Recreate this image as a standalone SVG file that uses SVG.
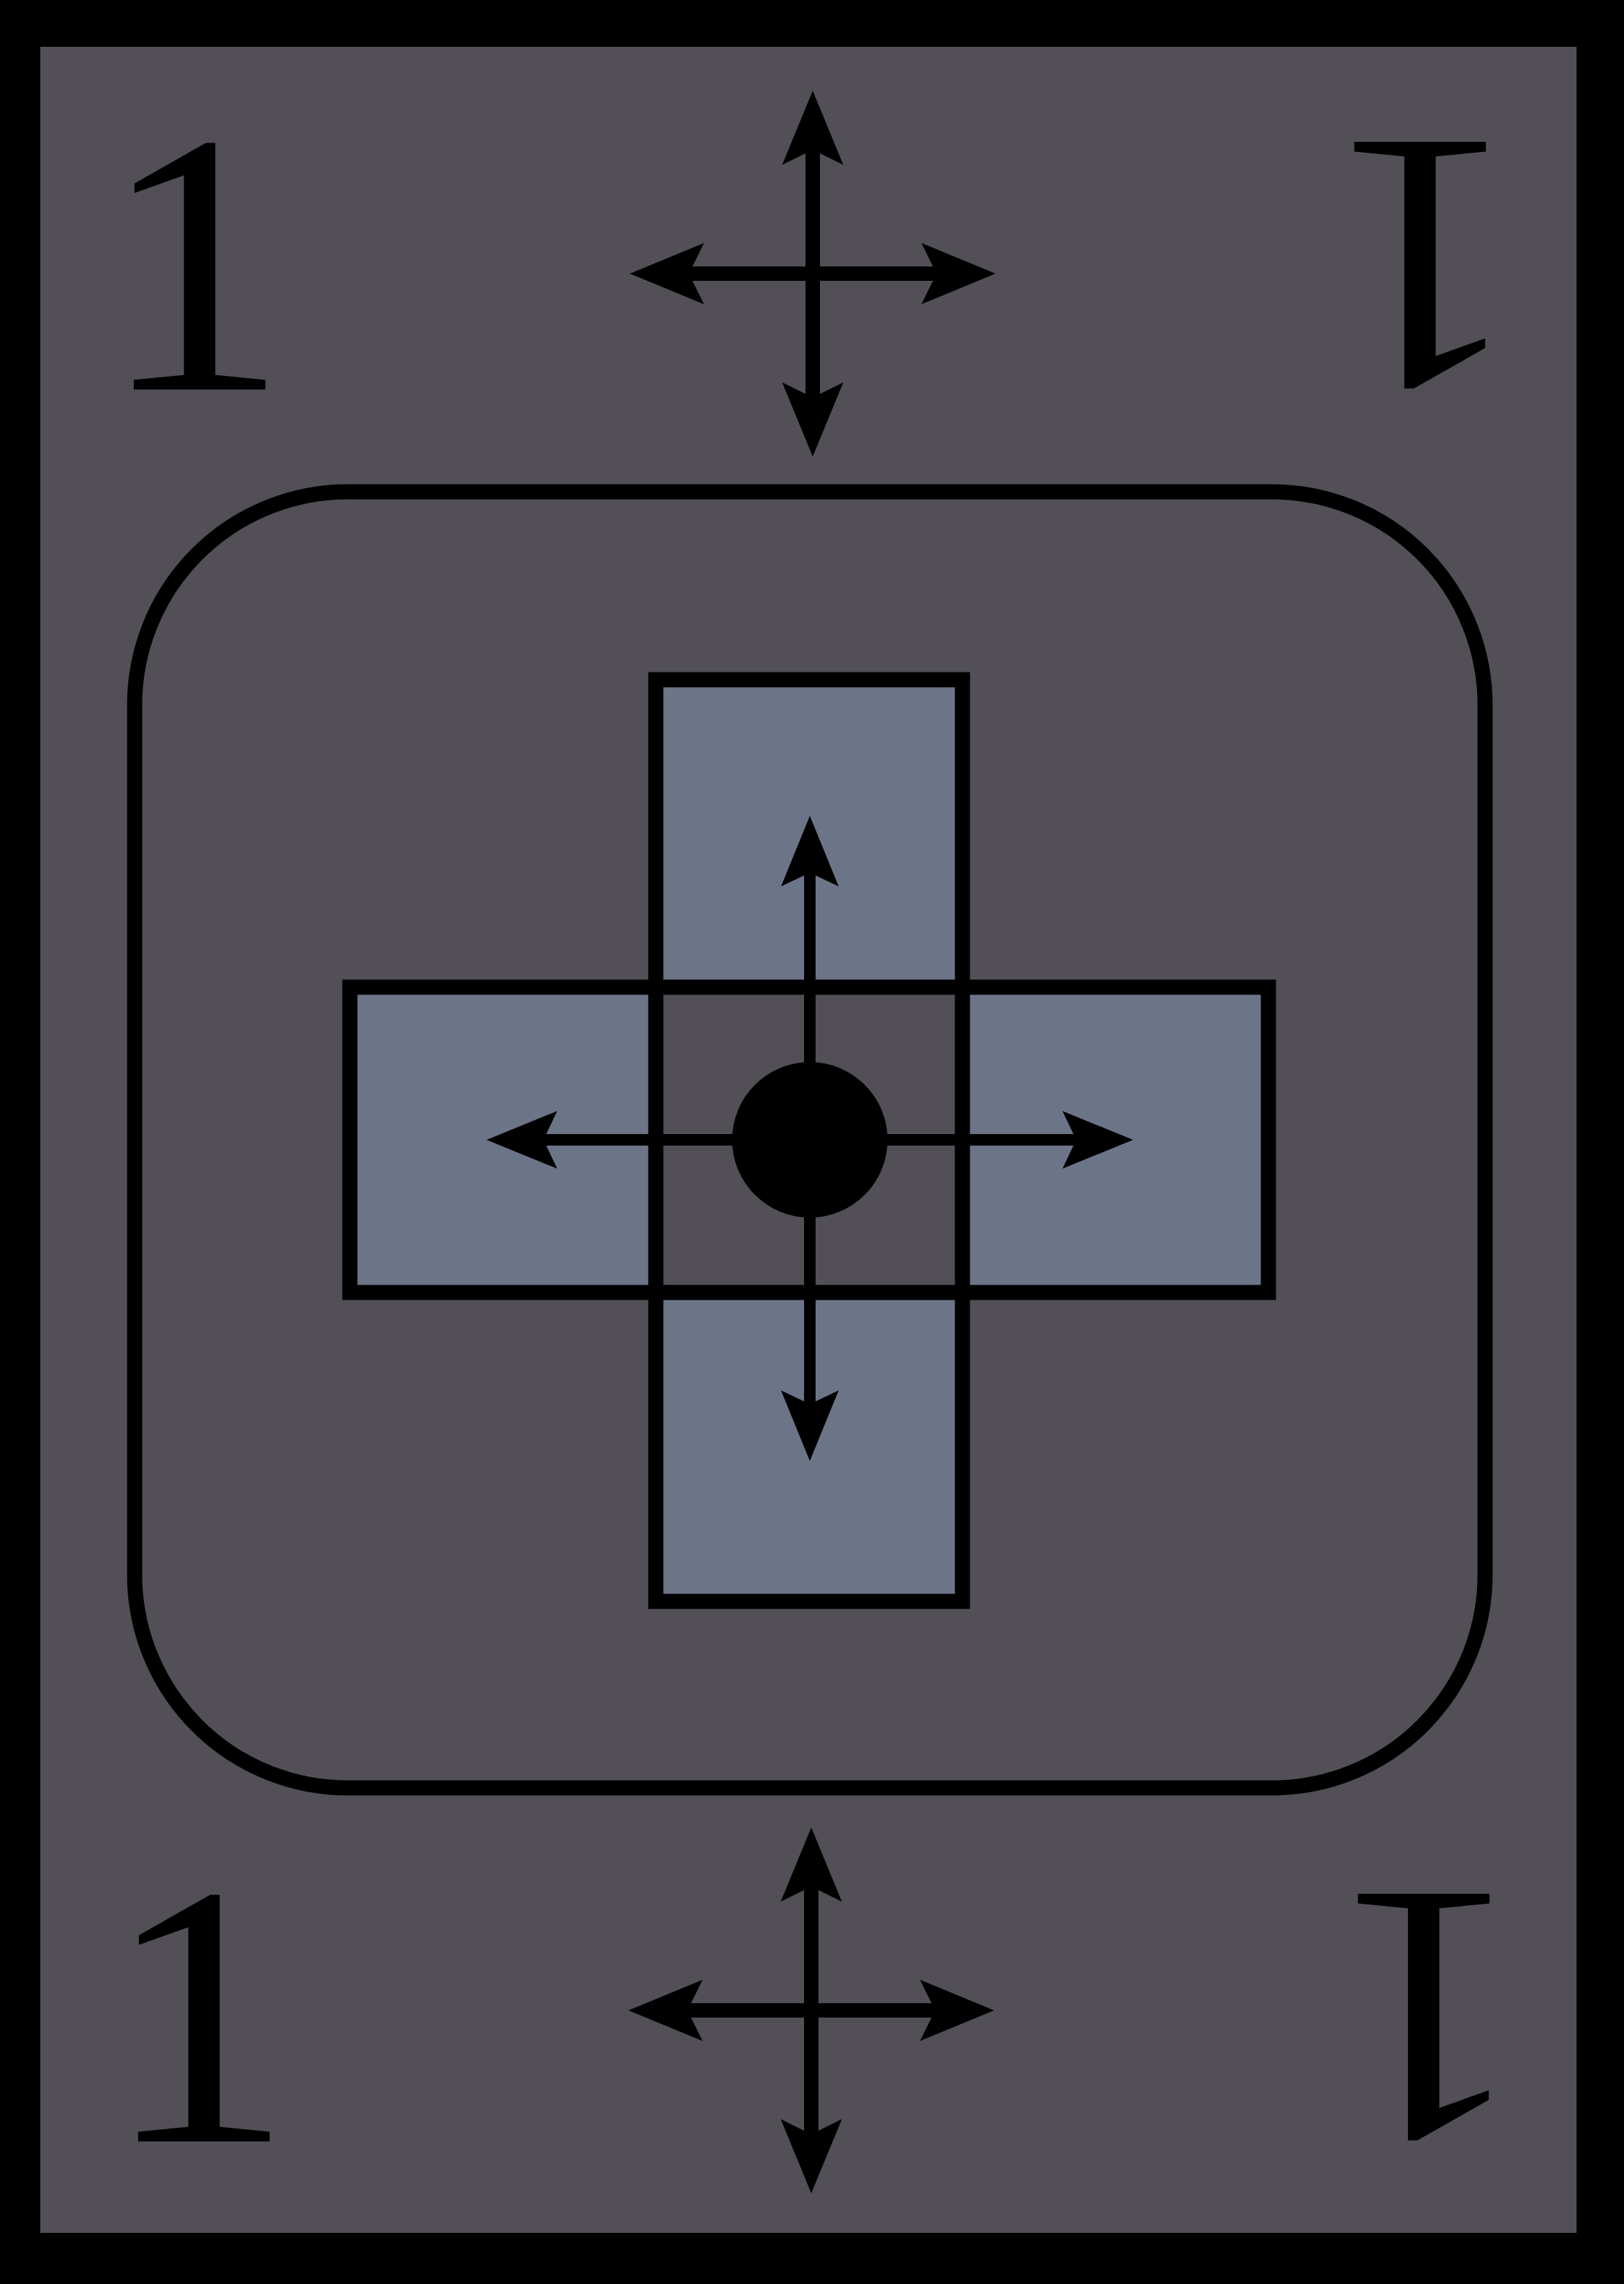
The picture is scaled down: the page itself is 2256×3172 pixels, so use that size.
<svg xmlns="http://www.w3.org/2000/svg" width="2256" height="3172" viewBox="0 0 2256 3172">
  <style>
    .num { font-family: "Liberation Serif", "Times New Roman", serif; font-size: 519px; fill: #000; text-anchor: middle; }
    .outline { fill: none; stroke: #000; stroke-width: 21; }
    .arm { fill: #6c7488; }
    .big { stroke: #000; stroke-width: 20; fill: none; marker-start: url(#headBig); marker-end: url(#headBig); }
    .small { stroke: #000; stroke-width: 16; fill: none; marker-end: url(#headSmall); }
  </style>
  <defs>
    <marker id="headBig" markerUnits="userSpaceOnUse" orient="auto-start-reverse" refX="-60" refY="0" markerWidth="1" markerHeight="1" overflow="visible">
      <path d="M0,0 L-103,-42.5 L-82,0 L-103,42.5 Z" fill="#000"/>
    </marker>
    <marker id="headSmall" markerUnits="userSpaceOnUse" orient="auto" refX="-60" refY="0" markerWidth="1" markerHeight="1" overflow="visible">
      <path d="M0,0 L-98,-40 L-79,0 L-98,40 Z" fill="#000"/>
    </marker>
  </defs>

  <g id="card">
    <rect x="0" y="0" width="2256" height="3172" fill="#000"/>
    <rect x="56" y="65" width="2134" height="3036" fill="#524f57"/>
  </g>

  <g id="corner-top-left">
    <text class="num" x="270" y="541">1</text>
  </g>
  <g id="corner-top-right">
    <text class="num" x="1974" y="541" transform="rotate(180 1977 369)">1</text>
  </g>
  <g id="corner-bottom-left">
    <text class="num" x="276" y="2974">1</text>
  </g>
  <g id="corner-bottom-right">
    <text class="num" x="1980" y="2974" transform="rotate(180 1982.5 2802)">1</text>
  </g>

  <g id="frame">
    <rect class="outline" x="187" y="683" width="1876" height="1800" rx="296" ry="296"/>
  </g>

  <g id="cross">
    <rect class="arm" x="911" y="944" width="426" height="1280"/>
    <rect class="arm" x="486" y="1371" width="1276" height="424"/>
    <rect x="911" y="1371" width="426" height="424" fill="#524f57"/>
    <rect class="outline" x="911" y="944" width="426" height="1280"/>
    <rect class="outline" x="486" y="1371" width="1276" height="424"/>
  </g>

  <g id="connectors">
    <line class="big" x1="1129" y1="186" x2="1129" y2="574"/>
    <line class="big" x1="935" y1="380" x2="1323" y2="380"/>
    <line class="big" x1="1127" y1="2598" x2="1127" y2="2986"/>
    <line class="big" x1="933" y1="2792" x2="1321" y2="2792"/>
    <line class="small" x1="1125" y1="1583" x2="1125" y2="1193"/>
    <line class="small" x1="1125" y1="1583" x2="1125" y2="1969"/>
    <line class="small" x1="1125" y1="1583" x2="736" y2="1583"/>
    <line class="small" x1="1125" y1="1583" x2="1514" y2="1583"/>
  </g>

  <g id="center-dot">
    <circle cx="1125" cy="1583" r="108" fill="#000"/>
  </g>
</svg>
